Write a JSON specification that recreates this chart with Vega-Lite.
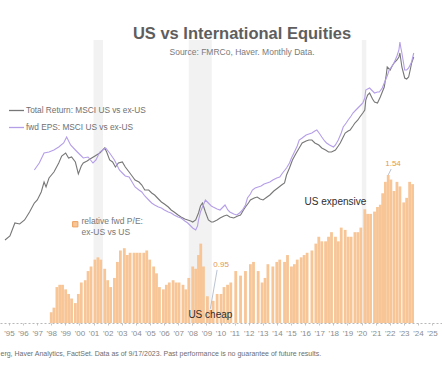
{
  "$schema": "https://vega.github.io/schema/vega-lite/v6.json",
  "width": 442,
  "height": 283,
  "autosize": {"type": "none"},
  "padding": {"left": 0, "right": 0, "top": 40, "bottom": 46},
  "background": "white",
  "config": {"view": {"stroke": null}, "font": "Liberation Sans"},
  "title": {
    "text": "US vs International Equities",
    "subtitle": "Source: FMRCo, Haver.  Monthly Data.",
    "anchor": "middle",
    "frame": "group",
    "dx": 21,
    "offset": -16,
    "font": "Liberation Sans",
    "fontSize": 16.5,
    "fontWeight": "bold",
    "color": "#5e5e5e",
    "subtitleFont": "Liberation Sans",
    "subtitleFontSize": 8.5,
    "subtitleColor": "#7a7a7a",
    "subtitlePadding": 5
  },
  "datasets": {
    "recessions": [
      {"t": 2001.0, "t2": 2001.67},
      {"t": 2007.75, "t2": 2009.38},
      {"t": 2020.02, "t2": 2020.34}
    ],
    "pe": [
      {"t": 1998.0, "v": 0.94}, {"t": 1998.19, "v": 0.96}, {"t": 1998.4, "v": 1.05}, {"t": 1998.6, "v": 1.06},
      {"t": 1998.8, "v": 1.06}, {"t": 1999.02, "v": 1.04}, {"t": 1999.23, "v": 1.02}, {"t": 1999.44, "v": 1.0},
      {"t": 1999.71, "v": 0.98}, {"t": 1999.92, "v": 1.02}, {"t": 2000.13, "v": 1.07}, {"t": 2000.41, "v": 1.08},
      {"t": 2000.61, "v": 1.12}, {"t": 2000.82, "v": 1.14}, {"t": 2001.1, "v": 1.17}, {"t": 2001.31, "v": 1.18},
      {"t": 2001.51, "v": 1.17}, {"t": 2001.79, "v": 1.13}, {"t": 2002.0, "v": 1.08}, {"t": 2002.21, "v": 1.05},
      {"t": 2002.48, "v": 1.09}, {"t": 2002.69, "v": 1.16}, {"t": 2002.9, "v": 1.21}, {"t": 2003.18, "v": 1.22},
      {"t": 2003.39, "v": 1.19}, {"t": 2003.59, "v": 1.2}, {"t": 2003.87, "v": 1.2}, {"t": 2004.08, "v": 1.2},
      {"t": 2004.29, "v": 1.2}, {"t": 2004.56, "v": 1.2}, {"t": 2004.77, "v": 1.21}, {"t": 2004.98, "v": 1.17},
      {"t": 2005.26, "v": 1.14}, {"t": 2005.46, "v": 1.11}, {"t": 2005.67, "v": 1.05}, {"t": 2005.95, "v": 1.04},
      {"t": 2006.16, "v": 1.06}, {"t": 2006.37, "v": 1.07}, {"t": 2006.64, "v": 1.08}, {"t": 2006.85, "v": 1.07},
      {"t": 2007.06, "v": 1.07}, {"t": 2007.34, "v": 1.06}, {"t": 2007.54, "v": 1.04}, {"t": 2007.75, "v": 1.09},
      {"t": 2008.03, "v": 1.14}, {"t": 2008.24, "v": 1.13}, {"t": 2008.44, "v": 1.19}, {"t": 2008.6, "v": 1.24},
      {"t": 2008.79, "v": 1.14}, {"t": 2009.07, "v": 1.01}, {"t": 2009.28, "v": 0.95}, {"t": 2009.48, "v": 0.99},
      {"t": 2009.76, "v": 1.02}, {"t": 2010.04, "v": 1.02}, {"t": 2010.25, "v": 1.05}, {"t": 2010.5, "v": 1.06},
      {"t": 2010.73, "v": 1.07}, {"t": 2011.08, "v": 1.12}, {"t": 2011.42, "v": 1.1}, {"t": 2011.77, "v": 1.12},
      {"t": 2012.12, "v": 1.15}, {"t": 2012.34, "v": 1.16}, {"t": 2012.67, "v": 1.12}, {"t": 2012.95, "v": 1.07},
      {"t": 2013.16, "v": 1.09}, {"t": 2013.36, "v": 1.15}, {"t": 2013.71, "v": 1.14}, {"t": 2013.99, "v": 1.16},
      {"t": 2014.2, "v": 1.17}, {"t": 2014.54, "v": 1.16}, {"t": 2014.75, "v": 1.19}, {"t": 2015.03, "v": 1.14},
      {"t": 2015.24, "v": 1.15}, {"t": 2015.44, "v": 1.17}, {"t": 2015.72, "v": 1.18}, {"t": 2015.93, "v": 1.19},
      {"t": 2016.14, "v": 1.2}, {"t": 2016.48, "v": 1.21}, {"t": 2016.76, "v": 1.24}, {"t": 2016.97, "v": 1.27},
      {"t": 2017.18, "v": 1.25}, {"t": 2017.45, "v": 1.25}, {"t": 2017.66, "v": 1.27}, {"t": 2017.87, "v": 1.29},
      {"t": 2018.15, "v": 1.27}, {"t": 2018.35, "v": 1.25}, {"t": 2018.56, "v": 1.31}, {"t": 2018.84, "v": 1.3},
      {"t": 2019.05, "v": 1.27}, {"t": 2019.26, "v": 1.27}, {"t": 2019.53, "v": 1.29}, {"t": 2019.74, "v": 1.29},
      {"t": 2019.95, "v": 1.31}, {"t": 2020.23, "v": 1.39}, {"t": 2020.43, "v": 1.37}, {"t": 2020.64, "v": 1.37},
      {"t": 2020.92, "v": 1.38}, {"t": 2021.13, "v": 1.4}, {"t": 2021.33, "v": 1.41}, {"t": 2021.5, "v": 1.46},
      {"t": 2021.69, "v": 1.51}, {"t": 2021.89, "v": 1.54}, {"t": 2022.08, "v": 1.52}, {"t": 2022.3, "v": 1.47},
      {"t": 2022.51, "v": 1.51}, {"t": 2022.72, "v": 1.49}, {"t": 2022.99, "v": 1.42}, {"t": 2023.2, "v": 1.44},
      {"t": 2023.41, "v": 1.51}, {"t": 2023.62, "v": 1.5}
    ],
    "tr": [
      {"t": 1994.72, "v": 0.83}, {"t": 1995.07, "v": 0.87}, {"t": 1995.42, "v": 1.0}, {"t": 1995.76, "v": 0.99},
      {"t": 1996.11, "v": 1.03}, {"t": 1996.46, "v": 1.11}, {"t": 1996.8, "v": 1.2}, {"t": 1997.01, "v": 1.23},
      {"t": 1997.29, "v": 1.31}, {"t": 1997.49, "v": 1.41}, {"t": 1997.63, "v": 1.36}, {"t": 1997.84, "v": 1.45},
      {"t": 1998.19, "v": 1.51}, {"t": 1998.53, "v": 1.6}, {"t": 1998.74, "v": 1.67}, {"t": 1999.02, "v": 1.7},
      {"t": 1999.23, "v": 1.65}, {"t": 1999.44, "v": 1.66}, {"t": 1999.71, "v": 1.61}, {"t": 1999.92, "v": 1.49},
      {"t": 2000.13, "v": 1.57}, {"t": 2000.27, "v": 1.6}, {"t": 2000.54, "v": 1.62}, {"t": 2000.75, "v": 1.64},
      {"t": 2001.1, "v": 1.67}, {"t": 2001.44, "v": 1.7}, {"t": 2001.65, "v": 1.73}, {"t": 2001.79, "v": 1.75},
      {"t": 2001.93, "v": 1.71}, {"t": 2002.14, "v": 1.63}, {"t": 2002.35, "v": 1.61}, {"t": 2002.55, "v": 1.56},
      {"t": 2002.76, "v": 1.6}, {"t": 2003.04, "v": 1.61}, {"t": 2003.25, "v": 1.56}, {"t": 2003.52, "v": 1.51},
      {"t": 2003.73, "v": 1.47}, {"t": 2003.94, "v": 1.43}, {"t": 2004.22, "v": 1.41}, {"t": 2004.42, "v": 1.38},
      {"t": 2004.63, "v": 1.33}, {"t": 2004.91, "v": 1.33}, {"t": 2005.12, "v": 1.3}, {"t": 2005.33, "v": 1.28},
      {"t": 2005.6, "v": 1.24}, {"t": 2005.81, "v": 1.21}, {"t": 2006.02, "v": 1.19}, {"t": 2006.3, "v": 1.16},
      {"t": 2006.5, "v": 1.13}, {"t": 2006.71, "v": 1.11}, {"t": 2006.99, "v": 1.08}, {"t": 2007.2, "v": 1.06},
      {"t": 2007.47, "v": 1.04}, {"t": 2007.68, "v": 1.03}, {"t": 2007.89, "v": 1.02}, {"t": 2008.03, "v": 1.01},
      {"t": 2008.24, "v": 1.03}, {"t": 2008.44, "v": 1.1}, {"t": 2008.58, "v": 1.17}, {"t": 2008.72, "v": 1.2},
      {"t": 2008.93, "v": 1.11}, {"t": 2009.14, "v": 1.03}, {"t": 2009.35, "v": 1.01}, {"t": 2009.48, "v": 1.01},
      {"t": 2009.76, "v": 1.03}, {"t": 2009.97, "v": 1.05}, {"t": 2010.25, "v": 1.07}, {"t": 2010.45, "v": 1.08},
      {"t": 2010.66, "v": 1.06}, {"t": 2010.94, "v": 1.05}, {"t": 2011.22, "v": 1.07}, {"t": 2011.42, "v": 1.08},
      {"t": 2011.63, "v": 1.13}, {"t": 2011.77, "v": 1.16}, {"t": 2011.98, "v": 1.2}, {"t": 2012.12, "v": 1.23},
      {"t": 2012.39, "v": 1.25}, {"t": 2012.6, "v": 1.26}, {"t": 2012.81, "v": 1.24}, {"t": 2013.02, "v": 1.23},
      {"t": 2013.3, "v": 1.26}, {"t": 2013.5, "v": 1.28}, {"t": 2013.78, "v": 1.32}, {"t": 2014.06, "v": 1.35},
      {"t": 2014.33, "v": 1.38}, {"t": 2014.54, "v": 1.4}, {"t": 2014.68, "v": 1.48}, {"t": 2014.89, "v": 1.55},
      {"t": 2015.1, "v": 1.63}, {"t": 2015.37, "v": 1.7}, {"t": 2015.58, "v": 1.75}, {"t": 2015.79, "v": 1.8},
      {"t": 2016.07, "v": 1.82}, {"t": 2016.27, "v": 1.83}, {"t": 2016.48, "v": 1.83}, {"t": 2016.69, "v": 1.8},
      {"t": 2016.97, "v": 1.78}, {"t": 2017.18, "v": 1.75}, {"t": 2017.45, "v": 1.73}, {"t": 2017.66, "v": 1.71},
      {"t": 2017.87, "v": 1.71}, {"t": 2018.15, "v": 1.73}, {"t": 2018.35, "v": 1.77}, {"t": 2018.49, "v": 1.8},
      {"t": 2018.7, "v": 1.86}, {"t": 2018.84, "v": 1.9}, {"t": 2019.05, "v": 1.92}, {"t": 2019.19, "v": 1.93},
      {"t": 2019.39, "v": 1.97}, {"t": 2019.53, "v": 2.0}, {"t": 2019.74, "v": 2.03}, {"t": 2019.88, "v": 2.06},
      {"t": 2020.09, "v": 2.1}, {"t": 2020.23, "v": 2.13}, {"t": 2020.3, "v": 2.23}, {"t": 2020.43, "v": 2.28},
      {"t": 2020.57, "v": 2.3}, {"t": 2020.78, "v": 2.24}, {"t": 2020.92, "v": 2.21}, {"t": 2021.13, "v": 2.2},
      {"t": 2021.33, "v": 2.26}, {"t": 2021.47, "v": 2.31}, {"t": 2021.61, "v": 2.36}, {"t": 2021.75, "v": 2.48},
      {"t": 2021.82, "v": 2.56}, {"t": 2022.03, "v": 2.53}, {"t": 2022.17, "v": 2.57}, {"t": 2022.3, "v": 2.6},
      {"t": 2022.51, "v": 2.63}, {"t": 2022.65, "v": 2.66}, {"t": 2022.72, "v": 2.7}, {"t": 2022.86, "v": 2.56},
      {"t": 2022.99, "v": 2.49}, {"t": 2023.06, "v": 2.45}, {"t": 2023.2, "v": 2.44}, {"t": 2023.34, "v": 2.46},
      {"t": 2023.48, "v": 2.55}, {"t": 2023.55, "v": 2.6}, {"t": 2023.7, "v": 2.66}
    ],
    "eps": [
      {"t": 1996.8, "v": 1.53}, {"t": 1997.15, "v": 1.6}, {"t": 1997.49, "v": 1.7}, {"t": 1997.84, "v": 1.71},
      {"t": 1998.19, "v": 1.73}, {"t": 1998.53, "v": 1.76}, {"t": 1998.88, "v": 1.8}, {"t": 1999.09, "v": 1.86},
      {"t": 1999.37, "v": 1.78}, {"t": 1999.71, "v": 1.73}, {"t": 1999.92, "v": 1.7}, {"t": 2000.27, "v": 1.65},
      {"t": 2000.61, "v": 1.66}, {"t": 2000.96, "v": 1.6}, {"t": 2001.17, "v": 1.63}, {"t": 2001.44, "v": 1.71},
      {"t": 2001.65, "v": 1.73}, {"t": 2001.86, "v": 1.75}, {"t": 2002.14, "v": 1.7}, {"t": 2002.48, "v": 1.63},
      {"t": 2002.83, "v": 1.53}, {"t": 2003.04, "v": 1.5}, {"t": 2003.25, "v": 1.47}, {"t": 2003.52, "v": 1.46},
      {"t": 2003.73, "v": 1.41}, {"t": 2003.94, "v": 1.36}, {"t": 2004.22, "v": 1.33}, {"t": 2004.42, "v": 1.31},
      {"t": 2004.63, "v": 1.27}, {"t": 2004.91, "v": 1.23}, {"t": 2005.12, "v": 1.2}, {"t": 2005.33, "v": 1.18},
      {"t": 2005.6, "v": 1.16}, {"t": 2005.81, "v": 1.15}, {"t": 2006.02, "v": 1.13}, {"t": 2006.3, "v": 1.11},
      {"t": 2006.5, "v": 1.1}, {"t": 2006.71, "v": 1.08}, {"t": 2006.99, "v": 1.06}, {"t": 2007.2, "v": 1.05},
      {"t": 2007.47, "v": 1.02}, {"t": 2007.68, "v": 1.0}, {"t": 2007.89, "v": 0.97}, {"t": 2008.03, "v": 0.95},
      {"t": 2008.24, "v": 0.93}, {"t": 2008.37, "v": 0.97}, {"t": 2008.44, "v": 1.03}, {"t": 2008.58, "v": 1.11},
      {"t": 2008.72, "v": 1.16}, {"t": 2008.93, "v": 1.23}, {"t": 2009.14, "v": 1.2}, {"t": 2009.35, "v": 1.17},
      {"t": 2009.48, "v": 1.16}, {"t": 2009.76, "v": 1.14}, {"t": 2009.97, "v": 1.13}, {"t": 2010.18, "v": 1.16},
      {"t": 2010.32, "v": 1.18}, {"t": 2010.52, "v": 1.13}, {"t": 2010.66, "v": 1.11}, {"t": 2010.94, "v": 1.09},
      {"t": 2011.15, "v": 1.08}, {"t": 2011.35, "v": 1.1}, {"t": 2011.56, "v": 1.13}, {"t": 2011.77, "v": 1.18},
      {"t": 2011.91, "v": 1.25}, {"t": 2012.12, "v": 1.29}, {"t": 2012.26, "v": 1.33}, {"t": 2012.46, "v": 1.35},
      {"t": 2012.67, "v": 1.36}, {"t": 2012.88, "v": 1.37}, {"t": 2013.09, "v": 1.39}, {"t": 2013.3, "v": 1.4},
      {"t": 2013.5, "v": 1.41}, {"t": 2013.71, "v": 1.43}, {"t": 2013.99, "v": 1.45}, {"t": 2014.2, "v": 1.46},
      {"t": 2014.4, "v": 1.5}, {"t": 2014.68, "v": 1.55}, {"t": 2014.89, "v": 1.6}, {"t": 2015.03, "v": 1.65},
      {"t": 2015.24, "v": 1.71}, {"t": 2015.44, "v": 1.77}, {"t": 2015.58, "v": 1.83}, {"t": 2015.79, "v": 1.85},
      {"t": 2016.07, "v": 1.88}, {"t": 2016.27, "v": 1.89}, {"t": 2016.48, "v": 1.9}, {"t": 2016.69, "v": 1.92},
      {"t": 2016.83, "v": 1.93}, {"t": 2017.04, "v": 1.89}, {"t": 2017.18, "v": 1.86}, {"t": 2017.38, "v": 1.82},
      {"t": 2017.52, "v": 1.8}, {"t": 2017.73, "v": 1.78}, {"t": 2018.01, "v": 1.76}, {"t": 2018.15, "v": 1.78},
      {"t": 2018.35, "v": 1.83}, {"t": 2018.56, "v": 1.9}, {"t": 2018.7, "v": 1.96}, {"t": 2018.91, "v": 2.0},
      {"t": 2019.05, "v": 2.03}, {"t": 2019.26, "v": 2.07}, {"t": 2019.39, "v": 2.1}, {"t": 2019.6, "v": 2.13},
      {"t": 2019.74, "v": 2.15}, {"t": 2019.95, "v": 2.18}, {"t": 2020.09, "v": 2.2}, {"t": 2020.23, "v": 2.25},
      {"t": 2020.3, "v": 2.33}, {"t": 2020.43, "v": 2.34}, {"t": 2020.57, "v": 2.35}, {"t": 2020.78, "v": 2.32},
      {"t": 2020.92, "v": 2.3}, {"t": 2021.13, "v": 2.31}, {"t": 2021.26, "v": 2.31}, {"t": 2021.47, "v": 2.35},
      {"t": 2021.61, "v": 2.4}, {"t": 2021.82, "v": 2.47}, {"t": 2021.96, "v": 2.53}, {"t": 2022.17, "v": 2.57},
      {"t": 2022.3, "v": 2.6}, {"t": 2022.51, "v": 2.67}, {"t": 2022.65, "v": 2.73}, {"t": 2022.72, "v": 2.81},
      {"t": 2022.79, "v": 2.75}, {"t": 2022.86, "v": 2.7}, {"t": 2022.99, "v": 2.59}, {"t": 2023.06, "v": 2.53},
      {"t": 2023.2, "v": 2.53}, {"t": 2023.34, "v": 2.55}, {"t": 2023.48, "v": 2.59}, {"t": 2023.55, "v": 2.61},
      {"t": 2023.7, "v": 2.7}
    ],
    "notes": [
      {"t": 2018.15, "v": 1.422, "label": "US expensive"},
      {"t": 2009.28, "v": 0.928, "label": "US cheap"}
    ],
    "nums": [
      {"t": 2022.23, "v": 1.588, "label": "1.54"},
      {"t": 2010.04, "v": 1.147, "label": "0.95"}
    ],
    "leaders": [
      {"t": 2022.1, "v": 1.566, "t2": 2021.89, "v2": 1.54},
      {"t": 2009.76, "v": 1.125, "t2": 2009.28, "v2": 0.955}
    ]
  },
  "encoding": {
    "x": {
      "field": "t",
      "type": "quantitative",
      "scale": {"domain": [1994.72, 2025.35], "zero": false, "nice": false},
      "title": "erg, Haver Analytics, FactSet. Data as of 9/17/2023. Past performance is no guarantee of future results.",
      "axis": {
        "values": [1995, 1996, 1997, 1998, 1999, 2000, 2001, 2002, 2003, 2004, 2005, 2006, 2007, 2008, 2009, 2010, 2011, 2012, 2013, 2014, 2015, 2016, 2017, 2018, 2019, 2020, 2021, 2022, 2023, 2024, 2025],
        "labelExpr": "\"'\" + substring(toString(datum.value), 2, 4)",
        "labelFontSize": 8,
        "labelColor": "#8c8c8c",
        "labelFont": "Liberation Sans",
        "labelOverlap": false,
        "labelPadding": 4,
        "ticks": true,
        "tickSize": 2,
        "tickColor": "#c4c4c4",
        "grid": false,
        "domainColor": "#b8b8b8",
        "domainDash": [2, 2],
        "titleFont": "Liberation Sans",
        "titleFontSize": 7,
        "titleFontWeight": "normal",
        "titleColor": "#6e6e6e",
        "titleAnchor": "start",
        "titleAlign": "left",
        "titleX": 0,
        "titleY": 30,
        "titleBaseline": "middle"
      }
    }
  },
  "resolve": {"scale": {"y": "independent"}},
  "layer": [
    {
      "data": {"name": "recessions"},
      "mark": {"type": "rect", "color": "#f2f2f2"},
      "encoding": {"x2": {"field": "t2"}}
    },
    {
      "data": {"name": "pe"},
      "mark": {"type": "bar", "size": 2.8},
      "encoding": {
        "y": {"field": "v", "type": "quantitative", "scale": {"domain": [0.893, 2.13], "zero": false, "nice": false}, "axis": null},
        "y2": {"datum": 0.893},
        "fill": {
          "datum": "relative fwd P/E:", "type": "nominal",
          "scale": {"range": ["#f7c596"]},
          "legend": {
            "orient": "none", "legendX": 71, "legendY": 180, "title": null,
            "symbolType": "square", "symbolSize": 28,
            "symbolStrokeColor": "#eea25e", "symbolStrokeWidth": 1,
            "labelExpr": "['relative fwd P/E:', 'ex-US vs US']",
            "labelFont": "Liberation Sans", "labelFontSize": 8.5, "labelColor": "#777777",
            "labelBaseline": "alphabetic", "labelOffset": 2
          }
        }
      }
    },
    {
      "data": {"name": "tr"},
      "mark": {"type": "line", "strokeWidth": 1.1, "clip": true},
      "encoding": {
        "y": {"field": "v", "type": "quantitative", "scale": {"domain": [0, 2.83], "zero": false, "nice": false}, "axis": null},
        "color": {
          "datum": "Total Return: MSCI US vs ex-US", "type": "nominal",
          "scale": {"domain": ["Total Return: MSCI US vs ex-US", "fwd EPS: MSCI US vs ex-US"], "range": ["#777777", "#b49ee8"]},
          "legend": {
            "orient": "none", "legendX": 8, "legendY": 62, "title": null,
            "symbolType": "stroke", "symbolSize": 225, "symbolStrokeWidth": 1.3,
            "labelFont": "Liberation Sans", "labelFontSize": 8.3, "labelColor": "#707070",
            "labelOffset": 1, "rowPadding": 5
          }
        }
      }
    },
    {
      "data": {"name": "eps"},
      "mark": {"type": "line", "strokeWidth": 1.1, "clip": true},
      "encoding": {
        "y": {"field": "v", "type": "quantitative", "scale": {"domain": [0, 2.83], "zero": false, "nice": false}, "axis": null},
        "color": {"datum": "fwd EPS: MSCI US vs ex-US", "type": "nominal"}
      }
    },
    {
      "data": {"name": "leaders"},
      "mark": {"type": "rule", "color": "#aab4c6", "strokeWidth": 0.8},
      "encoding": {
        "x2": {"field": "t2"},
        "y": {"field": "v", "type": "quantitative", "scale": {"domain": [0.893, 2.13], "zero": false, "nice": false}, "axis": null},
        "y2": {"field": "v2"}
      }
    },
    {
      "data": {"name": "notes"},
      "mark": {"type": "text", "fontSize": 10, "color": "#2e2e2e", "align": "center", "baseline": "middle", "font": "Liberation Sans"},
      "encoding": {
        "y": {"field": "v", "type": "quantitative", "scale": {"domain": [0.893, 2.13], "zero": false, "nice": false}, "axis": null},
        "text": {"field": "label"}
      }
    },
    {
      "data": {"name": "nums"},
      "mark": {"type": "text", "fontSize": 8, "color": "#e3994f", "align": "center", "baseline": "middle", "font": "Liberation Sans"},
      "encoding": {
        "y": {"field": "v", "type": "quantitative", "scale": {"domain": [0.893, 2.13], "zero": false, "nice": false}, "axis": null},
        "text": {"field": "label"}
      }
    }
  ]
}
